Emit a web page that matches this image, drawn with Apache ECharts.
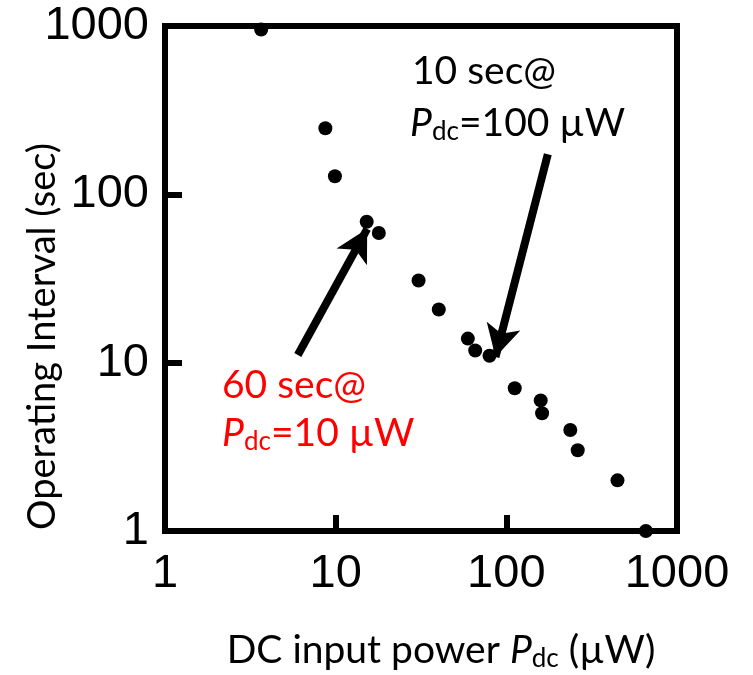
<!DOCTYPE html>
<html>
<head>
<meta charset="utf-8">
<script src="https://cdn.jsdelivr.net/npm/echarts@6/dist/echarts.min.js"></script>
<style>
html,body{margin:0;padding:0;background:#fff;}
#chart{width:753px;height:675px;}
</style>
</head>
<body>
<div id="chart"></div>
<script>
// Data
const dcPower = [3.66, 8.7, 9.9, 15.2, 17.9, 30.6, 40.2, 59.5, 65.7, 79.7, 112, 159, 162, 237, 262, 448, 657];
const interval = [952, 247, 128, 68.7, 58.9, 30.8, 20.7, 13.9, 11.8, 11.0, 7.05, 5.97, 5.01, 3.98, 3.02, 2.0, 1.0];
const xTicks = [1, 10, 100, 1000];
const yTicks = [1, 10, 100, 1000];
// arrows: [start, end] in data coordinates
const arrow100 = [[175, 173], [86.4, 10.8]];
const arrow10 = [[6.0, 11.1], [15.3, 62.4]];

const FONT = 'Lato';
const TICKFONT = 'Liberation Sans';
const chart = echarts.init(document.getElementById('chart'), null, {renderer: 'canvas'});

function makeRich(color, colorKey, size) {
  const sub = Math.round(size * 0.66);
  const n = {fontSize: size, fontFamily: FONT, lineHeight: size + 2, verticalAlign: 'top'};
  const i = Object.assign({}, n, {fontStyle: 'italic'});
  const s = {fontSize: sub, fontFamily: FONT, lineHeight: sub, verticalAlign: 'bottom', padding: [18, 0, 0, 0]};
  n[colorKey] = color; i[colorKey] = color; s[colorKey] = color;
  return {n, i, s};
}

const ANN = 39;

const option = {
  backgroundColor: '#fff',
  animation: false,
  grid: {left: 165, right: 76, top: 26, bottom: 144, show: true, borderColor: '#000', borderWidth: 6,
         backgroundColor: 'transparent', outerBoundsMode: 'none', containLabel: false},
  xAxis: {
    type: 'log', logBase: 10, min: 1, max: 1000,
    axisLine: {show: true, lineStyle: {color: '#000', width: 6}},
    axisTick: {show: true, inside: true, length: 16, lineStyle: {color: '#000', width: 6}},
    splitLine: {show: false},
    axisLabel: {
      fontSize: 47, fontFamily: TICKFONT, color: '#000', margin: 20,
      formatter: v => xTicks.includes(Math.round(v)) ? String(Math.round(v)) : ''
    },
    name: '{n|DC input power }{i|P}{s|dc}{n| (µW)}',
    nameLocation: 'middle', nameGap: 100, nameMoveOverlap: false,
    nameTextStyle: {rich: makeRich('#000', 'color', 39), padding: [0, 0, 0, 40]}
  },
  yAxis: {
    type: 'log', logBase: 10, min: 1, max: 1000,
    axisLine: {show: true, lineStyle: {color: '#000', width: 6}},
    axisTick: {show: true, inside: true, length: 17, lineStyle: {color: '#000', width: 6}},
    splitLine: {show: false},
    axisLabel: {
      fontSize: 47, fontFamily: TICKFONT, color: '#000', margin: 16,
      formatter: v => yTicks.includes(Math.round(v)) ? String(Math.round(v)) : ''
    },
    name: 'Operating Interval (sec)',
    nameLocation: 'middle', nameGap: 102, nameMoveOverlap: false,
    nameTextStyle: {fontSize: 38, fontFamily: FONT, color: '#000', lineHeight: 40, padding: [0, 116, 0, 0]}
  },
  series: [{
    type: 'scatter',
    data: dcPower.map((x, i) => [x, interval[i]]),
    symbol: 'circle', symbolSize: 14,
    itemStyle: {color: '#000', opacity: 1},
    z: 5,
    markLine: {
      silent: true,
      symbol: ['none', 'arrow'],
      symbolSize: [26, 32],
      lineStyle: {color: '#000', width: 8, type: 'solid', opacity: 1},
      label: {show: false},
      emphasis: {disabled: true},
      data: [
        [{coord: arrow100[0]}, {coord: arrow100[1]}],
        [{coord: arrow10[0]}, {coord: arrow10[1]}]
      ]
    }
  }],
  graphic: [
    {type: 'text', x: 412, y: 71, style: {text: '10 sec@', font: ANN + 'px ' + FONT, fill: '#000', verticalAlign: 'middle'}},
    {type: 'text', x: 410, y: 124, style: {text: '{i|P}{s|dc}{n|=100 µW}', rich: makeRich('#000', 'fill', ANN), verticalAlign: 'middle'}},
    {type: 'text', x: 222, y: 385, style: {text: '60 sec@', font: ANN + 'px ' + FONT, fill: '#ff0000', verticalAlign: 'middle'}},
    {type: 'text', x: 222, y: 434, style: {text: '{i|P}{s|dc}{n|=10 µW}', rich: makeRich('#ff0000', 'fill', ANN), verticalAlign: 'middle'}}
  ]
};
chart.setOption(option);
</script>
</body>
</html>
